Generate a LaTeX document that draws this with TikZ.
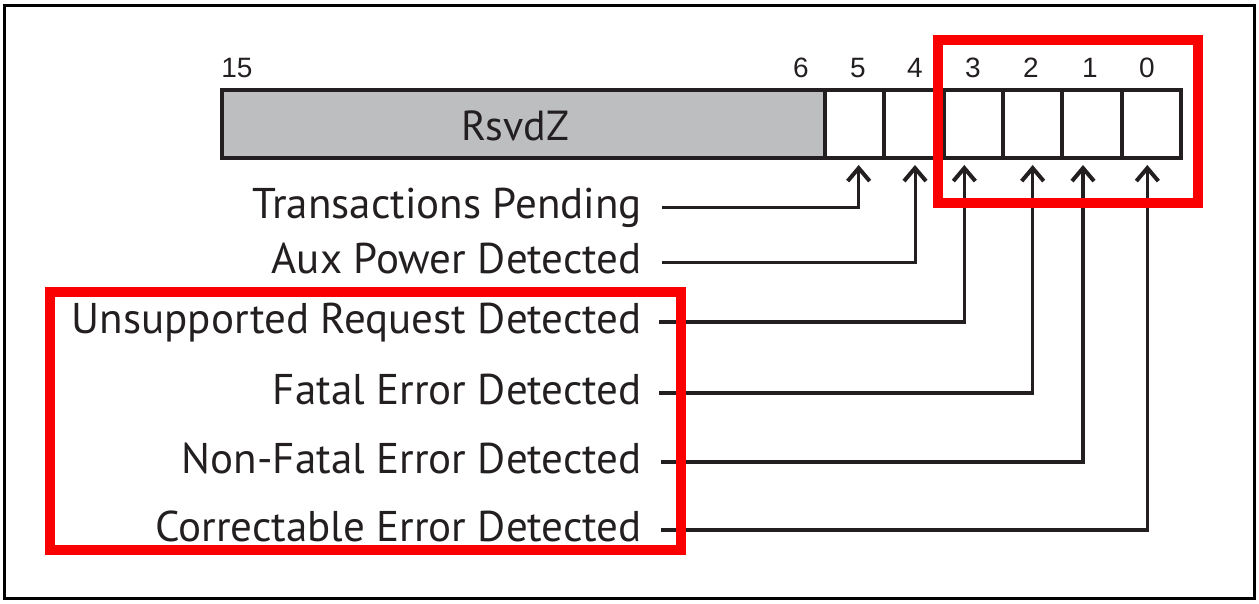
\documentclass[tikz,border=0pt]{standalone}
\usepackage{fontspec}
\setmainfont{PT Sans}
\newfontfamily\numfont{Liberation Sans}
\usetikzlibrary{arrows.meta}
\definecolor{rsvdgray}{RGB}{188,190,192}
\definecolor{ink}{RGB}{35,31,32}
\definecolor{hlred}{RGB}{250,0,0}
\begin{document}
\begin{tikzpicture}[x=1pt,y=-1pt,
  reg/.style={draw=ink,line width=4pt,minimum height=68pt,inner sep=0pt},
  cell/.style={reg,minimum width=59.33pt,fill=white},
  bitnum/.style={font=\numfont\fontsize{28}{28}\selectfont,text=ink,inner sep=0pt},
  lbl/.style={font=\fontsize{43}{50}\selectfont,text=ink,anchor=east,inner sep=0pt,text height=22pt,text depth=0pt},
  conn/.style={draw=ink,line width=3pt,-{Straight Barb[length=13pt,width=22pt,line width=4pt]},shorten >=5pt},
  hl/.style={draw=hlred,line width=10pt}]
\useasboundingbox (0,0) rectangle (1259,603);
\draw[line width=3pt] (4,5) rectangle (1254,598);
% register
\node[reg,fill=rsvdgray,minimum width=603pt] (rsvd) at (523.5,124) {};
\node[font=\fontsize{42}{42}\selectfont,text=ink] (rsvdtxt) at (515,126) {RsvdZ};
\node[cell] (b5) at (854.67,124) {};
\node[cell] (b4) at (914.0,124) {};
\node[cell] (b3) at (973.33,124) {};
\node[cell] (b2) at (1032.67,124) {};
\node[cell] (b1) at (1092.0,124) {};
\node[cell] (b0) at (1151.33,124) {};
% bit numbers
\node[bitnum] (n15) at (237,68) {15};
\node[bitnum] (n6) at (801,68) {6};
\node[bitnum] (n5) at (858,68) {5};
\node[bitnum] (n4) at (915,68) {4};
\node[bitnum] (n3) at (973,68) {3};
\node[bitnum] (n2) at (1031,68) {2};
\node[bitnum] (n1) at (1090,68) {1};
\node[bitnum] (n0) at (1147,68) {0};
% labels
\node[lbl] (tp) at (642,207) {Transactions Pending};
\node[lbl] (apd) at (642,262) {Aux Power Detected};
\node[lbl] (urd) at (642,322) {Unsupported Request Detected};
\node[lbl] (fed) at (642,393) {Fatal Error Detected};
\node[lbl] (nfed) at (642,462) {Non-Fatal Error Detected};
\node[lbl] (ced) at (642,530) {Correctable Error Detected};
% connectors
\draw[conn] ([xshift=20pt]tp.east) -| ([xshift=4pt]b5.south);
\draw[conn] ([xshift=20pt]apd.east) -| ([xshift=1pt]b4.south);
\draw[conn,line width=3.5pt] ([xshift=17pt]urd.east) -| ([xshift=-9pt]b3.south);
\draw[conn,line width=3.5pt] ([xshift=17pt]fed.east) -| ([xshift=0pt]b2.south);
\draw[conn,line width=3.5pt] ([xshift=19pt]nfed.east) -| ([xshift=-9pt]b1.south);
\draw[conn,line width=3.5pt] ([xshift=19pt]ced.east) -| ([xshift=-4pt]b0.south);
% highlight boxes
\draw[hl] (938,40) rectangle (1198,203);
\draw[hl] (50,292) rectangle (681,550);
\end{tikzpicture}
\end{document}
